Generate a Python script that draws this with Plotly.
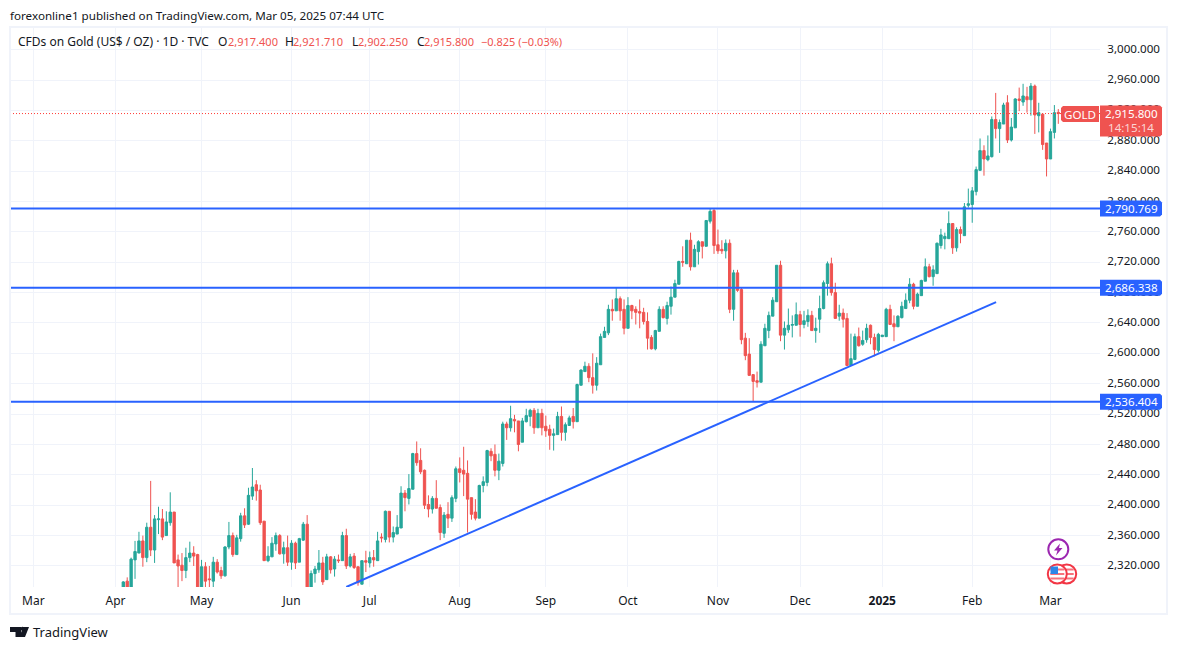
import plotly.graph_objects as go

# daily candles, first visible one is early April 2024, last is 2025-03-05
opens = [2288, 2300, 2291, 2328, 2337, 2353, 2331, 2371, 2341, 2381,
         2382, 2360, 2377, 2391, 2328, 2321, 2314, 2331, 2337, 2335,
         2288, 2319, 2303, 2300, 2325, 2314, 2307, 2345, 2360, 2335,
         2356, 2386, 2375, 2412, 2427, 2420, 2379, 2327, 2332, 2349,
         2360, 2336, 2344, 2325, 2350, 2325, 2354, 2375, 2292, 2310,
         2315, 2324, 2302, 2332, 2316, 2328, 2327, 2360, 2320, 2333,
         2319, 2296, 2327, 2324, 2331, 2327, 2358, 2355, 2392, 2358,
         2362, 2370, 2416, 2409, 2421, 2468, 2459, 2446, 2401, 2395,
         2409, 2397, 2363, 2388, 2383, 2409, 2448, 2446, 2442, 2410,
         2391, 2383, 2426, 2430, 2471, 2467, 2446, 2455, 2507, 2502,
         2513, 2511, 2483, 2510, 2517, 2525, 2502, 2521, 2504, 2500,
         2492, 2493, 2517, 2496, 2505, 2517, 2510, 2558, 2576, 2583,
         2568, 2558, 2585, 2621, 2627, 2658, 2656, 2672, 2658, 2633,
         2663, 2658, 2655, 2654, 2642, 2621, 2606, 2629, 2658, 2646,
         2662, 2674, 2691, 2721, 2718, 2749, 2714, 2734, 2747, 2741,
         2774, 2788, 2743, 2737, 2735, 2745, 2658, 2706, 2684, 2620,
         2599, 2572, 2564, 2562, 2610, 2630, 2649, 2668, 2716, 2624,
         2631, 2637, 2637, 2651, 2638, 2642, 2650, 2630, 2645, 2659,
         2692, 2718, 2680, 2649, 2653, 2646, 2584, 2592, 2622, 2612,
         2618, 2637, 2621, 2604, 2622, 2622, 2658, 2639, 2635, 2647,
         2659, 2670, 2691, 2662, 2676, 2695, 2714, 2701, 2705, 2742,
         2751, 2751, 2771, 2739, 2763, 2755, 2795, 2796, 2813, 2841,
         2867, 2855, 2859, 2908, 2896, 2902, 2930, 2881, 2897, 2935,
         2931, 2938, 2934, 2952, 2913, 2915, 2877, 2856, 2891, 2917.4]
highs = [2300, 2305, 2331, 2353, 2365, 2360, 2377, 2432, 2387, 2398,
         2395, 2392, 2417, 2391, 2335, 2337, 2344, 2352, 2346, 2336,
         2328, 2325, 2320, 2332, 2329, 2319, 2346, 2378, 2364, 2361,
         2390, 2396, 2423, 2449, 2433, 2427, 2379, 2346, 2358, 2364,
         2362, 2352, 2360, 2354, 2352, 2357, 2378, 2387, 2314, 2320,
         2341, 2332, 2336, 2333, 2333, 2335, 2365, 2369, 2336, 2337,
         2319, 2327, 2340, 2339, 2341, 2365, 2363, 2393, 2392, 2372,
         2387, 2425, 2420, 2441, 2469, 2484, 2475, 2447, 2413, 2412,
         2433, 2401, 2391, 2404, 2413, 2451, 2463, 2477, 2459, 2410,
         2408, 2427, 2438, 2473, 2475, 2480, 2468, 2510, 2510, 2531,
         2519, 2511, 2515, 2527, 2527, 2528, 2527, 2527, 2518, 2506,
         2501, 2523, 2530, 2509, 2518, 2528, 2560, 2579, 2589, 2587,
         2600, 2595, 2626, 2635, 2664, 2671, 2687, 2675, 2671, 2674,
         2664, 2662, 2671, 2660, 2654, 2624, 2631, 2662, 2662, 2668,
         2688, 2697, 2722, 2741, 2749, 2759, 2743, 2749, 2747, 2775,
         2791, 2791, 2763, 2749, 2750, 2750, 2710, 2710, 2687, 2627,
         2620, 2572, 2576, 2616, 2639, 2655, 2674, 2716, 2722, 2642,
         2659, 2650, 2667, 2656, 2656, 2658, 2656, 2647, 2676, 2696,
         2721, 2726, 2693, 2664, 2659, 2653, 2626, 2626, 2634, 2630,
         2639, 2638, 2626, 2627, 2624, 2660, 2664, 2650, 2650, 2668,
         2679, 2699, 2693, 2680, 2697, 2725, 2718, 2716, 2746, 2764,
         2759, 2787, 2771, 2766, 2767, 2798, 2817, 2819, 2846, 2883,
         2874, 2887, 2912, 2943, 2908, 2930, 2940, 2910, 2936, 2950,
         2955, 2951, 2956, 2954, 2930, 2915, 2877, 2896, 2927, 2921.71]
lows = [2285, 2286, 2289, 2303, 2337, 2319, 2325, 2333, 2324, 2362,
        2354, 2360, 2373, 2324, 2288, 2300, 2304, 2325, 2320, 2284,
        2285, 2290, 2290, 2290, 2310, 2303, 2306, 2342, 2332, 2335,
        2352, 2370, 2374, 2407, 2406, 2374, 2327, 2325, 2332, 2340,
        2335, 2323, 2320, 2315, 2316, 2325, 2353, 2288, 2290, 2298,
        2311, 2295, 2302, 2310, 2306, 2324, 2327, 2316, 2318, 2316,
        2294, 2296, 2312, 2318, 2319, 2327, 2351, 2351, 2351, 2351,
        2362, 2370, 2392, 2401, 2421, 2452, 2441, 2395, 2384, 2389,
        2396, 2354, 2357, 2370, 2378, 2404, 2430, 2412, 2364, 2381,
        2380, 2383, 2417, 2425, 2458, 2438, 2433, 2451, 2486, 2497,
        2496, 2471, 2483, 2509, 2504, 2494, 2502, 2492, 2490, 2473,
        2472, 2493, 2485, 2485, 2505, 2501, 2510, 2558, 2576, 2562,
        2547, 2551, 2585, 2621, 2624, 2643, 2656, 2643, 2625, 2633,
        2645, 2638, 2633, 2638, 2605, 2605, 2604, 2629, 2646, 2638,
        2651, 2674, 2691, 2714, 2718, 2709, 2714, 2717, 2725, 2741,
        2771, 2731, 2731, 2731, 2725, 2653, 2643, 2681, 2612, 2591,
        2571, 2537, 2555, 2562, 2610, 2620, 2649, 2668, 2616, 2605,
        2627, 2621, 2637, 2622, 2633, 2635, 2630, 2614, 2627, 2658,
        2676, 2676, 2646, 2643, 2634, 2584, 2584, 2591, 2609, 2610,
        2614, 2612, 2596, 2601, 2622, 2622, 2638, 2616, 2635, 2646,
        2659, 2666, 2658, 2662, 2676, 2695, 2700, 2689, 2705, 2738,
        2737, 2751, 2731, 2734, 2745, 2755, 2792, 2772, 2808, 2841,
        2834, 2853, 2858, 2883, 2864, 2902, 2877, 2879, 2897, 2919,
        2926, 2917, 2913, 2889, 2891, 2868, 2833, 2856, 2883, 2902.25]
closes = [2299, 2290, 2329, 2339, 2353, 2331, 2371, 2341, 2382, 2382,
          2358, 2378, 2391, 2324, 2320, 2314, 2331, 2337, 2333, 2286,
          2319, 2300, 2302, 2325, 2312, 2307, 2345, 2360, 2335, 2357,
          2386, 2374, 2413, 2424, 2419, 2377, 2327, 2333, 2350, 2360,
          2336, 2344, 2325, 2350, 2324, 2356, 2375, 2291, 2310, 2316,
          2324, 2299, 2332, 2315, 2329, 2327, 2360, 2320, 2332, 2318,
          2298, 2327, 2325, 2331, 2328, 2353, 2357, 2392, 2358, 2364,
          2371, 2416, 2410, 2422, 2468, 2456, 2444, 2400, 2395, 2409,
          2396, 2364, 2387, 2383, 2410, 2448, 2443, 2441, 2408, 2388,
          2383, 2426, 2431, 2472, 2465, 2446, 2458, 2507, 2502, 2514,
          2511, 2480, 2511, 2518, 2525, 2502, 2521, 2502, 2498, 2492,
          2494, 2517, 2496, 2506, 2515, 2510, 2559, 2578, 2583, 2568,
          2558, 2587, 2622, 2629, 2658, 2656, 2672, 2656, 2633, 2663,
          2656, 2654, 2653, 2642, 2620, 2606, 2630, 2658, 2647, 2663,
          2674, 2692, 2721, 2720, 2749, 2714, 2737, 2747, 2741, 2775,
          2787, 2742, 2735, 2735, 2745, 2658, 2706, 2683, 2618, 2597,
          2571, 2563, 2562, 2612, 2633, 2650, 2670, 2716, 2624, 2633,
          2637, 2638, 2651, 2638, 2643, 2650, 2630, 2633, 2659, 2693,
          2718, 2680, 2646, 2653, 2645, 2584, 2593, 2622, 2610, 2617,
          2633, 2621, 2605, 2625, 2624, 2658, 2638, 2635, 2649, 2662,
          2670, 2691, 2662, 2678, 2696, 2714, 2701, 2710, 2745, 2756,
          2754, 2771, 2739, 2763, 2758, 2793, 2797, 2814, 2842, 2867,
          2856, 2860, 2908, 2896, 2904, 2927, 2881, 2898, 2935, 2933,
          2939, 2934, 2952, 2914, 2917, 2875, 2856, 2892, 2917, 2915.8]

# candle index where each month starts
month_ticks = [-23, -2, 20, 43, 63, 86, 108, 129, 152, 173, 194, 217, 237]
month_labels = ["Mar", "Apr", "May", "Jun", "Jul", "Aug", "Sep", "Oct", "Nov", "Dec",
                "<b>2025</b>", "Feb", "Mar"]

price_ticks = list(range(2320, 3001, 40))
level_prices = [2790.769, 2686.338, 2536.404]
last_price = 2915.8

trend_x = [57.0, 223.1]
trend_y = [2292.3, 2667.5]

GREEN = "#26a69a"
RED = "#ef5350"
BLUE = "#2962ff"
INK = "#131722"
GRID = "#f0f3fa"
FONT = "Noto Sans"

W, H = 1177, 650
LEFT, RIGHT, TOP, BOTTOM = 10, 1100, 27, 587


# helpers for things placed on the page rather than on the axes
def px(x):
    return (x - LEFT) / (RIGHT - LEFT)


def py(y):
    return 1 - (y - TOP) / (BOTTOM - TOP)


def label(x, y, text, color=INK, size=12, anchor="left"):
    fig.add_annotation(x=px(x), y=py(y), xref="paper", yref="paper", text=text,
                       showarrow=False, xanchor=anchor, yanchor="middle",
                       font=dict(family=FONT, size=size, color=color),
                       borderpad=0, borderwidth=0)


def page_shape(kind, x0, y0, x1, y1, **kw):
    fig.add_shape(type=kind, xref="paper", yref="paper", x0=px(x0), y0=py(y0),
                  x1=px(x1), y1=py(y1), layer="above", **kw)


def page_path(points, fill, line=None):
    path = "M" + " L".join(f"{px(a):.5f},{py(b):.5f}" for a, b in points) + " Z"
    fig.add_shape(type="path", xref="paper", yref="paper", path=path, layer="above",
                  fillcolor=fill, line=dict(width=0 if line is None else 1, color=line or fill))


# tag box, rounded only on the side away from the axis
def tag(x0, y0, x1, y1, fill, side="right"):
    r = 2
    if side == "right":
        pts = [(x0, y0), (x1 - r, y0), (x1, y0 + r), (x1, y1 - r), (x1 - r, y1), (x0, y1)]
    else:
        pts = [(x0 + r, y0), (x1, y0), (x1, y1), (x0 + r, y1), (x0, y1 - r), (x0, y0 + r)]
    page_path(pts, fill)


fig = go.Figure()

fig.add_trace(go.Candlestick(
    x=list(range(len(opens))), open=opens, high=highs, low=lows, close=closes,
    increasing=dict(line=dict(color=GREEN, width=1), fillcolor=GREEN),
    decreasing=dict(line=dict(color=RED, width=1), fillcolor=RED),
    whiskerwidth=0, showlegend=False, hoverinfo="skip"))

fig.add_trace(go.Scatter(x=trend_x, y=trend_y, mode="lines", showlegend=False,
                         line=dict(color=BLUE, width=2), hoverinfo="skip"))

for level in level_prices:
    fig.add_hline(y=level, line=dict(color=BLUE, width=2))
fig.add_shape(type="line", xref="paper", yref="y", x0=0, x1=1, y0=last_price, y1=last_price,
              line_color="#ff3b38", line_width=1, line_dash="1px,2px")

fig.update_layout(
    width=W, height=H, autosize=False,
    margin=dict(l=LEFT, r=W - RIGHT, t=TOP, b=H - BOTTOM, pad=0),
    paper_bgcolor="white", plot_bgcolor="white",
    showlegend=False, boxgap=0.15,
    font=dict(family=FONT, size=12, color=INK),
    xaxis=dict(range=[-28.96, 249.66], tickmode="array", tickvals=month_ticks,
               ticktext=month_labels, showgrid=True, gridcolor=GRID, gridwidth=1,
               zeroline=False, showline=False, ticks="outside", ticklen=3,
               tickcolor="rgba(0,0,0,0)", rangeslider=dict(visible=False),
               tickfont=dict(family=FONT, size=12, color=INK), tickangle=0),
    yaxis=dict(range=[2292.3, 3029.8], side="right", tickmode="array", tickvals=price_ticks,
               tickformat=",.3f", showgrid=True, gridcolor=GRID, gridwidth=1,
               zeroline=False, showline=False, ticks="outside", ticklen=4, ticklabelshift=-1,
               tickcolor="rgba(0,0,0,0)",
               tickfont=dict(family=FONT, size=11.6, color=INK)),
)

# frame around pane and axes
page_shape("rect", 10, 27, 1167, 614, line=dict(color="#f0f3fa", width=2))

# price tags
for level in level_prices:
    yc = 80 + (2960 - level) * 0.7594
    tag(1100, yc - 8, 1162, yc + 8, BLUE)
    label(1131, yc, f"{level:,.3f}", color="white", size=11.6, anchor="center")

tag(1061, 106, 1099, 122, RED, side="left")
label(1080, 114, "GOLD", color="white", size=11.6, anchor="center")
tag(1100, 105.5, 1162, 136.5, RED)
label(1131, 113.5, f"{last_price:,.3f}", color="white", size=11.6, anchor="center")
label(1131, 127.5, "14:15:14", color="#fbd5d4", size=11.6, anchor="center")

# header text
label(10, 15, "forexonline1 published on TradingView.com, Mar 05, 2025 07:44 UTC", size=11.65)
label(18, 41, "CFDs on Gold (US$ / OZ) · 1D · TVC")
for x, ch, xv, val in [(218, "O", 227.5, "2,917.400"), (285.5, "H", 293.5, "2,921.710"),
                       (351.5, "L", 358, "2,902.250"), (416.5, "C", 423.5, "2,915.800")]:
    label(x, 41, ch)
    label(xv, 41, val, color=RED, size=11)
label(481, 41, "−0.825 (−0.03%)", color=RED, size=11)

# event icons
page_shape("circle", 1048.3, 539.3, 1068.3, 559.3, fillcolor="white",
           line=dict(color="#9c27b0", width=2))
page_path([(1060, 543.5), (1054, 550.5), (1057.5, 550.5), (1056, 555.5),
           (1062.5, 548), (1059, 548)], "#9c27b0")
for cx in (1066.7, 1057.3):
    page_shape("circle", cx - 9.5, 564.5, cx + 9.5, 583.5, fillcolor="white",
               line=dict(color="#f23645", width=2))
    for yy in (569.5, 574, 578.5):
        page_shape("line", cx - 7, yy, cx + 7, yy, line=dict(color="#f7727c", width=2))
page_shape("rect", 1050.5, 566.5, 1058, 574, fillcolor="#2e86e8", line=dict(width=0))

# TradingView mark
page_path([(10, 627), (21, 627), (21, 637), (15.5, 637), (15.5, 632), (10, 632)], INK)
page_path([(23, 627), (29, 627), (25, 637), (19.5, 637)], INK)
page_shape("circle", 20.5, 626.8, 24.5, 630.8, fillcolor=INK, line=dict(width=0))
label(33, 632, "TradingView", size=13)

fig.write_html("out.html", config=dict(displayModeBar=False),
               post_script="document.body.style.margin = '0';")
